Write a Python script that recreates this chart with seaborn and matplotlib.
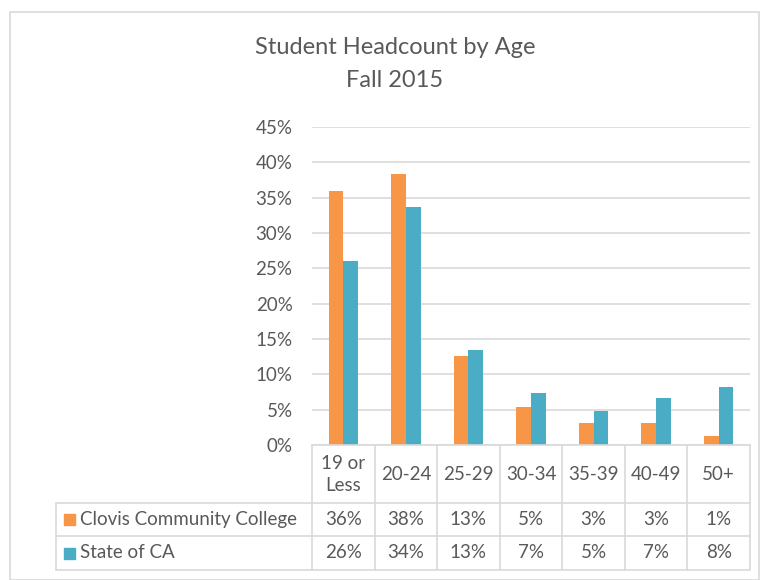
import numpy as np
import pandas as pd
import seaborn as sns
import matplotlib.pyplot as plt
from matplotlib.lines import Line2D
from matplotlib.patches import Rectangle
from matplotlib.transforms import blended_transform_factory

age_groups = ["19 or\nLess", "20-24", "25-29", "30-34", "35-39", "40-49", "50+"]
clovis = [35.9, 38.4, 12.6, 5.4, 3.1, 3.1, 1.3]
state_ca = [26.0, 33.7, 13.4, 7.3, 4.8, 6.6, 8.2]
series_names = ["Clovis Community College", "State of CA"]
colors = ["#F79646", "#4BACC6"]

df = pd.DataFrame({
    "age": age_groups * 2,
    "series": [series_names[0]] * len(age_groups) + [series_names[1]] * len(age_groups),
    "pct": clovis + state_ca,
})

sns.set_style("white")
plt.rcParams['font.family'] = ['Lato', 'DejaVu Sans']
text_col = "#595959"
line_col = "#D9D9D9"
fs = 13.5

W, H = 769, 580
fig = plt.figure(figsize=(W / 100, H / 100), dpi=100)
ax = fig.add_axes([312 / W, 1 - 445 / H, (750 - 312) / W, (445 - 127) / H])

sns.barplot(data=df, x="age", y="pct", hue="series", palette=colors,
            width=0.47, saturation=1, ax=ax, legend=False, linewidth=0)

ax.set_ylim(0, 45)
ax.set_xlim(-0.5, len(age_groups) - 0.5)
ax.set_yticks(np.arange(0, 46, 5))
ax.set_yticklabels([f"{v}%" for v in range(0, 46, 5)], fontsize=fs, color=text_col)
ax.tick_params(axis="y", length=0, pad=14)
ax.set_xticks([])
ax.set_xlabel("")
ax.set_ylabel("")
ax.yaxis.grid(True, color=line_col, linewidth=1.2)
ax.set_axisbelow(True)
for s in ["top", "right", "left"]:
    ax.spines[s].set_visible(False)
ax.spines["bottom"].set_color(line_col)
ax.spines["bottom"].set_linewidth(1.2)

# title
fig.text(395 / W, 1 - 48 / H, "Student Headcount by Age", ha="center", va="center",
         fontsize=17, color=text_col)
fig.text(395 / W, 1 - 80 / H, "Fall 2015", ha="center", va="center",
         fontsize=17, color=text_col)

# data table below the axis
tr = blended_transform_factory(ax.transData, fig.transFigure)
fy = lambda py: 1 - py / H
rows_y = [445, 503, 536, 570]

for i in range(len(age_groups) + 1):
    fig.add_artist(Line2D([i - 0.5, i - 0.5], [fy(445), fy(570)], transform=tr,
                          color=line_col, linewidth=1.2))
for py in rows_y[1:]:
    fig.add_artist(Line2D([56 / W, 750 / W], [fy(py), fy(py)], color=line_col, linewidth=1.2))
fig.add_artist(Line2D([56 / W, 56 / W], [fy(503), fy(570)], color=line_col, linewidth=1.2))

for i, lab in enumerate(age_groups):
    fig.text(i, fy(474.5), lab, transform=tr, ha="center", va="center",
             fontsize=fs, color=text_col, linespacing=1.3)

for r, (name, vals, c) in enumerate(zip(series_names, [clovis, state_ca], colors)):
    yc = fy((rows_y[r + 1] + rows_y[r + 2]) / 2)
    fig.add_artist(Rectangle((64 / W, yc - 5.5 / H), 11 / W, 11 / H, color=c,
                             transform=fig.transFigure))
    fig.text(80 / W, yc, name, ha="left", va="center", fontsize=fs, color=text_col)
    for i, v in enumerate(vals):
        fig.text(i, yc, f"{int(v + 0.5)}%", transform=tr, ha="center", va="center",
                 fontsize=fs, color=text_col)

# chart border
fig.add_artist(Rectangle((10 / W, 0), 749 / W, 1 - 12 / H, fill=False,
                         edgecolor=line_col, linewidth=1.2, transform=fig.transFigure))

fig.savefig("out.png", dpi=100)
